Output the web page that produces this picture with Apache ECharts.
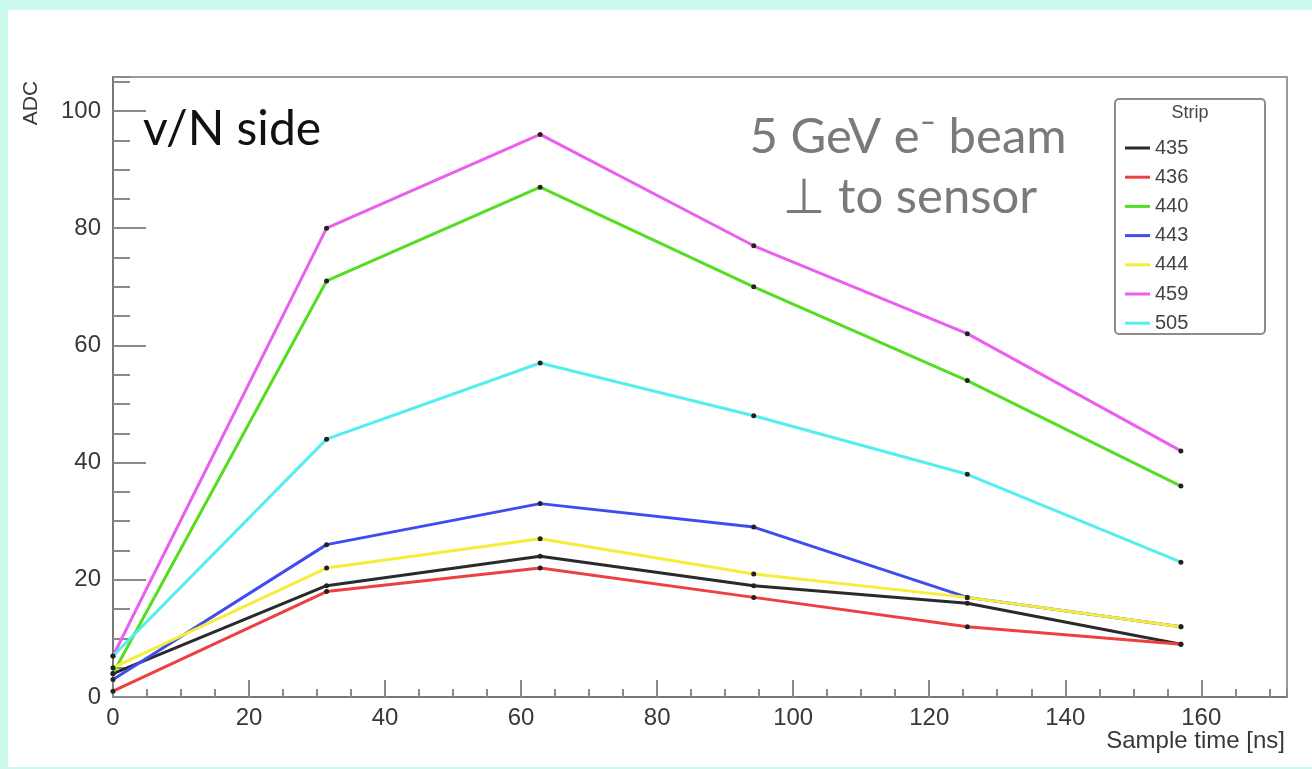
<!DOCTYPE html>
<html>
<head>
<meta charset="utf-8">
<script src="https://cdn.jsdelivr.net/npm/echarts@6/dist/echarts.min.js"></script>
<style>
  html, body { margin: 0; padding: 0; }
  body { width: 1312px; height: 769px; background: #cdf9ee; position: relative; overflow: hidden; }
  #chart { position: absolute; left: 8px; top: 10px; width: 1304px; height: 757px; background: #ffffff; }
</style>
</head>
<body>
<div id="chart"></div>
<script>
// Sample times of the six APV readout samples [ns]
const sampleTimes = [0, 31.4, 62.8, 94.2, 125.6, 157];

// Strip numbers shown in the legend
const strips = ['435', '436', '440', '443', '444', '459', '505'];

// ADC values per strip, one entry per sample
const adc435 = [4, 19, 24, 19, 16, 9];
const adc436 = [1, 18, 22, 17, 12, 9];
const adc440 = [4, 71, 87, 70, 54, 36];
const adc443 = [3, 26, 33, 29, 17, 12];
const adc444 = [5, 22, 27, 21, 17, 12];
const adc459 = [7, 80, 96, 77, 62, 42];
const adc505 = [7, 44, 57, 48, 38, 23];

const stripValues = [adc435, adc436, adc440, adc443, adc444, adc459, adc505];
const stripColors = ['#2a2a2a', '#ee4040', '#55dd22', '#3f4cf0', '#f8ec3a', '#ea5ff0', '#55eef0'];

const xMax = 172.6;
const yMax = 105.8;

const labelFont = { fontFamily: 'Liberation Sans, Arial, sans-serif', color: '#383838' };

const series = strips.map((name, i) => ({
  name: name,
  type: 'line',
  xAxisIndex: 0,
  yAxisIndex: 0,
  data: sampleTimes.map((t, k) => [t, stripValues[i][k]]),
  symbol: 'circle',
  symbolSize: 5,
  showSymbol: true,
  lineStyle: { color: stripColors[i], width: 3 },
  itemStyle: { color: '#222222' },
  emphasis: { disabled: true },
  animation: false,
  z: 2 + i
}));

const chart = echarts.init(document.getElementById('chart'), null, { renderer: 'canvas' });

chart.setOption({
  animation: false,
  backgroundColor: '#ffffff',
  grid: {
    left: 105, top: 67, right: 25, bottom: 70,
    show: true, borderColor: '#9a9a9a', borderWidth: 2, backgroundColor: 'transparent'
  },
  xAxis: [
    {
      type: 'value', min: 0, max: xMax, interval: 20,
      axisLine: { show: true, lineStyle: { color: '#777777', width: 2 } },
      axisTick: { show: true, inside: true, length: 17, lineStyle: { color: '#8a8a8a', width: 2 } },
      axisLabel: { show: true, showMaxLabel: false, margin: 9, fontSize: 24, ...labelFont },
      splitLine: { show: false }
    },
    {
      type: 'value', min: 0, max: xMax, interval: 5, position: 'bottom',
      axisLine: { show: false },
      axisTick: { show: true, inside: true, length: 8, lineStyle: { color: '#8a8a8a', width: 2 } },
      axisLabel: { show: false },
      splitLine: { show: false }
    }
  ],
  yAxis: [
    {
      type: 'value', min: 0, max: yMax, interval: 20,
      axisLine: { show: true, lineStyle: { color: '#777777', width: 2 } },
      axisTick: { show: true, inside: true, length: 33, lineStyle: { color: '#8a8a8a', width: 2 } },
      axisLabel: { show: true, showMaxLabel: false, margin: 12, fontSize: 24, ...labelFont },
      splitLine: { show: false }
    },
    {
      type: 'value', min: 0, max: yMax, interval: 5, position: 'left',
      axisLine: { show: false },
      axisTick: { show: true, inside: true, length: 17, lineStyle: { color: '#8a8a8a', width: 2 } },
      axisLabel: { show: false },
      splitLine: { show: false }
    }
  ],
  legend: {
    show: true,
    orient: 'vertical',
    left: 1112,
    top: 123,
    itemWidth: 25,
    itemHeight: 3,
    itemGap: 9.2,
    icon: 'rect',
    selectedMode: false,
    textStyle: { fontSize: 20, lineHeight: 20, fontFamily: 'Liberation Sans, Arial, sans-serif', color: '#444444' },
    data: strips.map((name, i) => ({ name: name, itemStyle: { color: stripColors[i] } }))
  },
  graphic: [
    // legend frame and header
    {
      type: 'rect', left: 1106, top: 88, z: 10,
      shape: { width: 150, height: 235, r: 4 },
      style: { fill: 'transparent', stroke: '#8c8c8c', lineWidth: 2 }
    },
    {
      type: 'text', z: 11, x: 1182, y: 103,
      style: { text: 'Strip', fontSize: 18, fontFamily: 'Liberation Sans, Arial, sans-serif', fill: '#444444', align: 'center', verticalAlign: 'middle' }
    },
    // axis titles
    {
      type: 'text', z: 11, x: 23, y: 93, rotation: Math.PI / 2,
      style: { text: 'ADC', fontSize: 21, fontFamily: 'Liberation Sans, Arial, sans-serif', fill: '#383838', align: 'center', verticalAlign: 'middle' }
    },
    {
      type: 'text', z: 11, x: 1277, y: 731,
      style: { text: 'Sample time [ns]', fontSize: 24, fontFamily: 'Liberation Sans, Arial, sans-serif', fill: '#383838', align: 'right', verticalAlign: 'middle' }
    },
    // annotations
    {
      type: 'text', z: 11, x: 135, y: 120,
      style: { text: 'v/N side', fontSize: 48, fontFamily: 'Lato, Open Sans, sans-serif', fill: '#111111', align: 'left', verticalAlign: 'middle' }
    },
    {
      type: 'text', z: 11, x: 900, y: 127,
      style: { text: '5 GeV e\u207B beam', fontSize: 49, fontFamily: 'Lato, DejaVu Sans, sans-serif', fill: '#7a7a7a', align: 'center', verticalAlign: 'middle' }
    },
    {
      type: 'text', z: 11, x: 902, y: 187,
      style: { text: '\u22A5 to sensor', fontSize: 49, fontFamily: 'Lato, DejaVu Sans, sans-serif', fill: '#7a7a7a', align: 'center', verticalAlign: 'middle' }
    }
  ],
  series: series
});
</script>
</body>
</html>
